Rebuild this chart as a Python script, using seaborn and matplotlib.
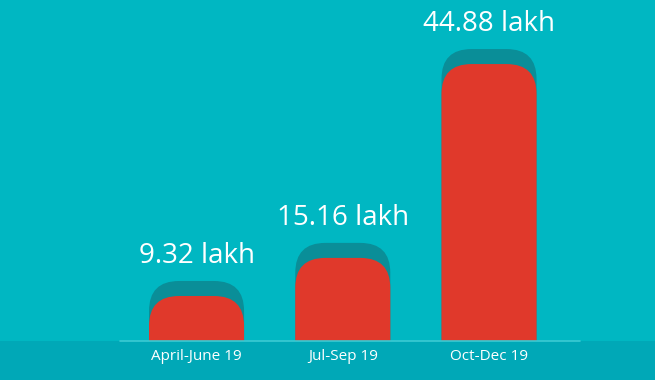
import numpy as np
import matplotlib
matplotlib.use("Agg")
import matplotlib.pyplot as plt
import seaborn as sns
from matplotlib.patches import FancyBboxPatch, Rectangle

# data
quarters = ["April-June 19", "Jul-Sep 19", "Oct-Dec 19"]
sales_lakh = [9.32, 15.16, 44.88]
value_labels = ["9.32 lakh", "15.16 lakh", "44.88 lakh"]

BG = "#00b7c2"
BAND = "#00a8b7"
SHADOW = "#0a8e98"
RED = "#e0392b"

sns.set_theme(style="white")
plt.rcParams["font.family"] = ["Open Sans", "DejaVu Sans"]

fig = plt.figure(figsize=(6.55, 3.8), dpi=100)
fig.patch.set_facecolor(BG)
# darker band at the bottom
fig.patches.append(Rectangle((0, 0), 1, 39 / 380, transform=fig.transFigure,
                             facecolor=BAND, edgecolor="none", zorder=-1))

ax = fig.add_axes([0, 39 / 380, 1, 341 / 380])
ax.set_facecolor(BG)

sns.barplot(x=quarters, y=sales_lakh, color=RED, width=0.65, ax=ax)

ax.set_xlim(-1.344, 3.135)
ax.set_ylim(2.42, 54.7)
ax.axhline(2.42, xmin=120 / 655, xmax=580 / 655, color="#3ccad3", lw=1.2, zorder=5,
           clip_on=False)

fig.canvas.draw()
# data units per pixel
px_x = (ax.get_xlim()[1] - ax.get_xlim()[0]) / ax.bbox.width
px_y = (ax.get_ylim()[1] - ax.get_ylim()[0]) / ax.bbox.height
aspect = px_y / px_x
radius = 30 * px_x
shadow_off = 15 * px_y

for bar, lab in zip(list(ax.patches), value_labels):
    x, w, top = bar.get_x(), bar.get_width(), bar.get_height()
    bar.set_visible(False)
    bottom = -10
    shadow = FancyBboxPatch((x, bottom), w, top + shadow_off - bottom,
                            boxstyle=f"round,pad=0,rounding_size={radius}",
                            mutation_aspect=aspect, facecolor=SHADOW,
                            edgecolor="none", zorder=2)
    red = FancyBboxPatch((x, bottom), w, top - bottom,
                         boxstyle=f"round,pad=0,rounding_size={radius}",
                         mutation_aspect=aspect, facecolor=RED,
                         edgecolor="none", zorder=3)
    ax.add_patch(shadow)
    ax.add_patch(red)
    ax.annotate(lab, (x + w / 2, top + shadow_off), xytext=(0, 25),
                textcoords="offset pixels", ha="center", va="center",
                color="white", fontsize=20)

ax.tick_params(axis="x", length=0, pad=6, labelsize=11, labelcolor="white")
ax.set_yticks([])
ax.set_xlabel("")
for s in ax.spines.values():
    s.set_visible(False)

fig.savefig("out.png", dpi=100, facecolor=BG)
